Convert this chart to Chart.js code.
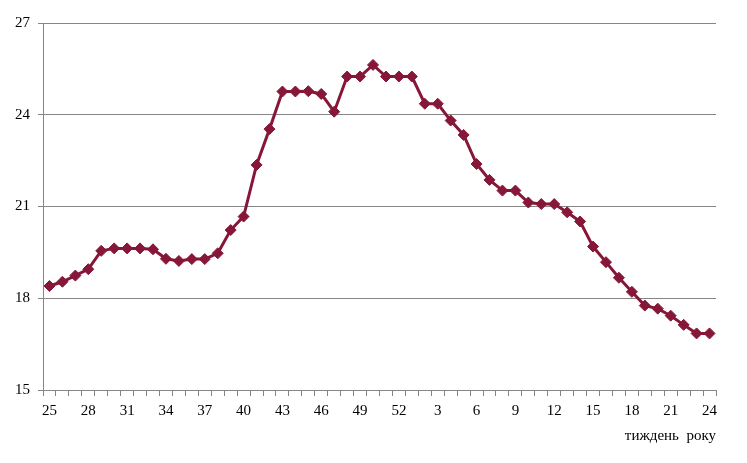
<!DOCTYPE html>
<html lang="uk">
<head>
    <meta charset="UTF-8">
    <title>Тижневий графік</title>
    <script src="https://cdn.jsdelivr.net/npm/chart.js@4"></script>
    <style>
        html, body { margin: 0; padding: 0; background: #fff; }
        #wrap { width: 747px; height: 463px; }
    </style>
</head>
<body>
    <div id="wrap"><canvas id="weekChart"></canvas></div>

    <script>
        // тижні: з 25-го по 52-й, потім з 1-го по 24-й
        const weeks = [
            25, 26, 27, 28, 29, 30, 31, 32, 33, 34, 35, 36, 37, 38, 39, 40,
            41, 42, 43, 44, 45, 46, 47, 48, 49, 50, 51, 52,
            1, 2, 3, 4, 5, 6, 7, 8, 9, 10, 11, 12,
            13, 14, 15, 16, 17, 18, 19, 20, 21, 22, 23, 24
        ];
        const values = [
            18.40, 18.54, 18.74, 18.95, 19.55, 19.63, 19.63, 19.63, 19.60, 19.29, 19.22, 19.28, 19.28, 19.47, 20.23, 20.67,
            22.36, 23.53, 24.76, 24.76, 24.77, 24.68, 24.10, 25.25, 25.25, 25.63, 25.25, 25.25,
            25.25, 24.36, 24.36, 23.81, 23.34, 22.39, 21.87, 21.52, 21.52, 21.13, 21.08, 21.08,
            20.81, 20.51, 19.69, 19.18, 18.67, 18.21, 17.76, 17.66, 17.43, 17.13, 16.85, 16.85
        ];
        const yTicks = [15, 18, 21, 24, 27];

        const font = { family: '"Liberation Serif", "Times New Roman", serif', size: 15 };
        const lineColor = '#861738';
        const gridColor = '#868686';

        const ctx = document.getElementById('weekChart').getContext('2d');
        new Chart(ctx, {
            type: 'line',
            data: {
                labels: weeks,
                datasets: [{
                    data: values,
                    borderColor: lineColor,
                    backgroundColor: lineColor,
                    borderWidth: 3,
                    pointStyle: 'rectRot',
                    pointRadius: 5.5,
                    pointBorderWidth: 1,
                    fill: false,
                    tension: 0
                }]
            },
            options: {
                responsive: true,
                maintainAspectRatio: false,
                animation: false,
                layout: { padding: { top: 23, right: 31, left: 0, bottom: 0 } },
                plugins: {
                    legend: { display: false },
                    tooltip: { enabled: false }
                },
                scales: {
                    x: {
                        type: 'category',
                        offset: true,
                        afterFit: (scale) => { scale.height = 73; },
                        grid: {
                            offset: true,
                            drawOnChartArea: false,
                            color: gridColor,
                            tickLength: 6
                        },
                        border: { color: gridColor, width: 1 },
                        ticks: {
                            autoSkip: false,
                            maxRotation: 0,
                            color: '#000',
                            font: font,
                            padding: 6,
                            callback: function (val, i) {
                                return i % 3 === 0 ? weeks[i] : '';
                            }
                        },
                        title: {
                            display: true,
                            text: 'тиждень  року',
                            align: 'end',
                            color: '#000',
                            font: font,
                            padding: { top: 2, bottom: 18 }
                        }
                    },
                    y: {
                        min: 15,
                        max: 27,
                        afterFit: (scale) => { scale.width = 43; },
                        afterBuildTicks: (scale) => {
                            scale.ticks = yTicks.map(v => ({ value: v }));
                        },
                        grid: {
                            color: gridColor,
                            tickLength: 5
                        },
                        border: { color: gridColor, width: 1 },
                        ticks: {
                            color: '#000',
                            font: font,
                            padding: 8
                        }
                    }
                }
            }
        });
    </script>
</body>
</html>
